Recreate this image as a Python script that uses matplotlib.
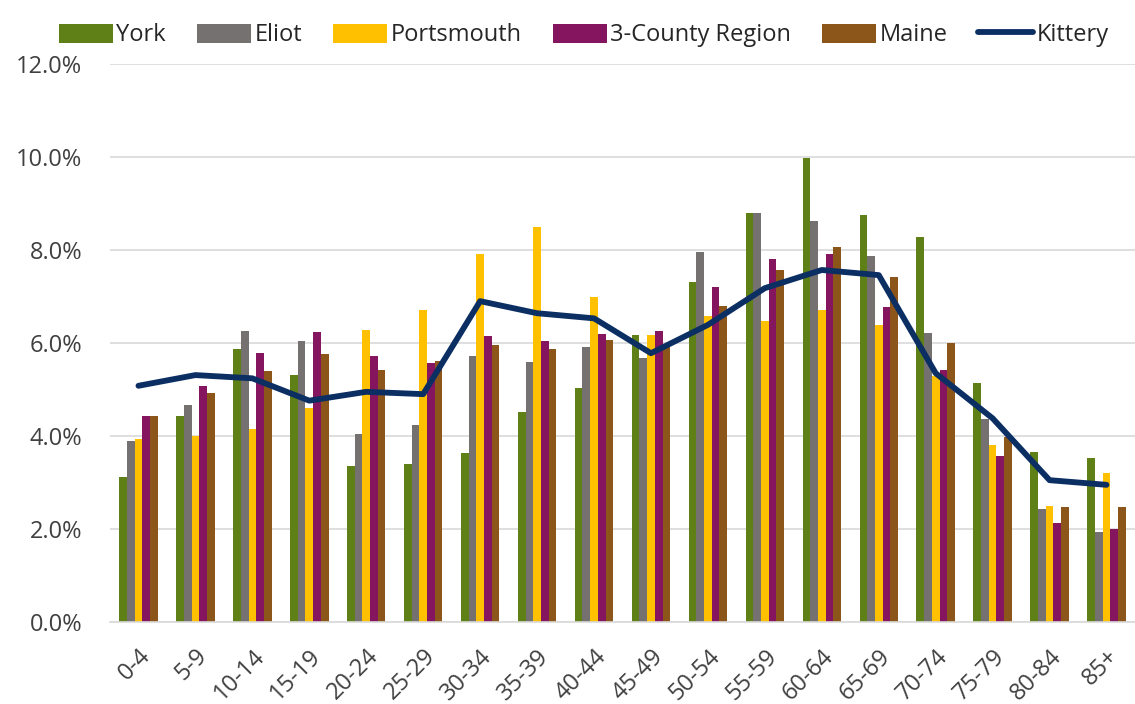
import matplotlib
matplotlib.use("Agg")
import matplotlib.pyplot as plt
import numpy as np
from matplotlib.ticker import PercentFormatter

plt.rcParams["font.family"] = ["Open Sans", "DejaVu Sans"]

ages = ["0-4", "5-9", "10-14", "15-19", "20-24", "25-29", "30-34", "35-39", "40-44",
        "45-49", "50-54", "55-59", "60-64", "65-69", "70-74", "75-79", "80-84", "85+"]

york = [3.11, 4.42, 5.87, 5.32, 3.36, 3.39, 3.64, 4.52, 5.04,
        6.17, 7.31, 8.79, 9.97, 8.76, 8.29, 5.13, 3.66, 3.52]
eliot = [3.89, 4.66, 6.26, 6.04, 4.05, 4.24, 5.71, 5.60, 5.92,
         5.68, 7.96, 8.79, 8.63, 7.88, 6.21, 4.36, 2.44, 1.94]
portsmouth = [3.94, 4.01, 4.16, 4.61, 6.29, 6.70, 7.91, 8.49, 7.00,
              6.17, 6.59, 6.48, 6.72, 6.39, 5.30, 3.81, 2.50, 3.20]
county3 = [4.42, 5.08, 5.79, 6.23, 5.71, 5.56, 6.15, 6.04, 6.20,
           6.26, 7.21, 7.80, 7.91, 6.78, 5.43, 3.58, 2.12, 2.01]
maine = [4.44, 4.93, 5.40, 5.76, 5.43, 5.62, 5.95, 5.88, 6.06,
         5.95, 6.80, 7.58, 8.07, 7.42, 6.01, 3.98, 2.48, 2.48]
kittery = [5.08, 5.31, 5.24, 4.76, 4.95, 4.90, 6.90, 6.64, 6.53,
           5.78, 6.39, 7.18, 7.57, 7.46, 5.35, 4.38, 3.05, 2.95]

series = [("York", york, "#5F7F17"),
          ("Eliot", eliot, "#767171"),
          ("Portsmouth", portsmouth, "#FFC000"),
          ("3-County Region", county3, "#85155E"),
          ("Maine", maine, "#8C561B")]

fig = plt.figure(figsize=(11.35, 7.04), dpi=100)
ax = fig.add_axes([110 / 1135, 1 - 622 / 704, 1025 / 1135, 558 / 704])

x = np.arange(len(ages))
w = 0.135
handles = []
for i, (name, vals, col) in enumerate(series):
    b = ax.bar(x + (i - 2) * w, vals, w, color=col, label=name, zorder=2)
    handles.append(b)
ln, = ax.plot(x, kittery, color="#0B2E63", lw=4.2, label="Kittery", zorder=3,
              solid_joinstyle="round", solid_capstyle="round")
handles.append(ln)

ax.set_xlim(-0.5, len(ages) - 0.5)
ax.set_ylim(0, 12)
ax.set_yticks(np.arange(0, 12.1, 2))
ax.yaxis.set_major_formatter(PercentFormatter(decimals=1))
ax.grid(axis="y", color="#D9D9D9", lw=1.2, zorder=0)
for s in ["top", "right", "left"]:
    ax.spines[s].set_visible(False)
ax.spines["bottom"].set_color("#D9D9D9")
ax.spines["bottom"].set_linewidth(1.2)
ax.tick_params(axis="both", length=0, labelsize=17, colors="#404040")
ax.tick_params(axis="y", pad=20)
ax.set_xticks(x)
ax.set_xticklabels(ages, rotation=45, ha="right", rotation_mode="anchor")
ax.tick_params(axis="x", pad=16)

ax.legend(handles=handles, loc="lower center", bbox_to_anchor=(0.462, 1.0), ncol=6,
          frameon=False, fontsize=17, handlelength=2.3, handleheight=0.9,
          handletextpad=0.15, columnspacing=1.3, labelcolor="#262626",
          borderaxespad=0.3)

fig.savefig("out.png", dpi=100)
